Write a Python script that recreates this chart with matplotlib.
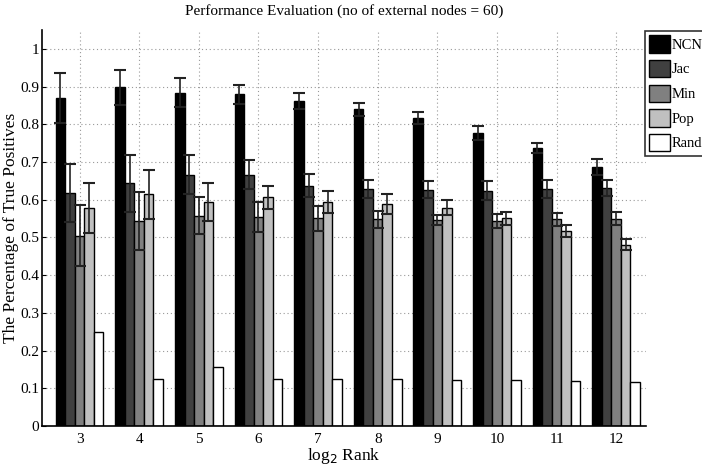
import numpy as np
import matplotlib
matplotlib.use("Agg")
import matplotlib.pyplot as plt

plt.rcParams['font.family'] = ['Liberation Serif', 'DejaVu Serif']

# -----------------------------
# Data
# -----------------------------
ranks = [3, 4, 5, 6, 7, 8, 9, 10, 11, 12]
methods = ['NCN', 'Jac', 'Min', 'Pop', 'Rand']

ncn = [0.870, 0.898, 0.884, 0.880, 0.862, 0.840, 0.817, 0.777, 0.737, 0.687]
jac = [0.617, 0.643, 0.666, 0.666, 0.637, 0.628, 0.627, 0.624, 0.628, 0.630]
mn = [0.505, 0.543, 0.558, 0.555, 0.551, 0.548, 0.546, 0.544, 0.548, 0.550]
pop = [0.579, 0.615, 0.594, 0.606, 0.594, 0.588, 0.579, 0.551, 0.518, 0.481]
rnd = [0.250, 0.125, 0.157, 0.125, 0.125, 0.125, 0.123, 0.122, 0.120, 0.116]

ncn_err = [0.066, 0.046, 0.038, 0.025, 0.022, 0.017, 0.016, 0.019, 0.014, 0.022]
jac_err = [0.077, 0.075, 0.052, 0.038, 0.031, 0.024, 0.023, 0.026, 0.024, 0.021]
mn_err = [0.080, 0.077, 0.048, 0.040, 0.033, 0.022, 0.014, 0.018, 0.018, 0.017]
pop_err = [0.066, 0.065, 0.050, 0.030, 0.029, 0.026, 0.020, 0.017, 0.016, 0.015]

colors = ['#000000', '#404040', '#808080', '#c0c0c0', '#ffffff']

# -----------------------------
# Plot
# -----------------------------
fig = plt.figure(figsize=(7.02, 4.68), dpi=100)
ax = fig.add_axes([42 / 702, 42 / 468, 604 / 702, 396 / 468])

x = np.array(ranks, dtype=float)
width = 0.16
series = [ncn, jac, mn, pop, rnd]
errs = [ncn_err, jac_err, mn_err, pop_err, None]

for i, (vals, err) in enumerate(zip(series, errs)):
    pos = x + (i - 2) * width
    ax.bar(pos, vals, width, color=colors[i], edgecolor='black',
           linewidth=1.0, label=methods[i], zorder=2)
    if err is not None:
        ax.errorbar(pos, vals, yerr=err, fmt='none', ecolor='#222222',
                    elinewidth=1.2, capsize=4, capthick=1.5, zorder=3)

ax.set_xlim(2.37, 12.5)
ax.set_ylim(0, 1.05)
ax.set_xticks(ranks)
ax.set_yticks(np.arange(0, 1.01, 0.1))
ax.set_yticklabels(['0', '0.1', '0.2', '0.3', '0.4', '0.5', '0.6',
                    '0.7', '0.8', '0.9', '1'])
ax.tick_params(direction='in', labelsize=11, length=3, pad=2)
ax.tick_params(axis='x', length=0, pad=5)

ax.grid(True, linestyle=(0, (1, 2.5)), color='#999999', linewidth=0.8)
ax.set_axisbelow(True)
ax.spines['top'].set_visible(False)
ax.spines['right'].set_visible(False)
ax.spines['left'].set_linewidth(1.2)
ax.spines['bottom'].set_linewidth(1.2)

ax.set_title('Performance Evaluation (no of external nodes = 60)',
             fontsize=11, pad=11)
ax.set_ylabel('The Percentage of True Positives', fontsize=12.5, labelpad=1)
ax.set_xlabel('log$_2$ Rank', fontsize=12.5, labelpad=0)

leg = fig.legend(loc='upper left', bbox_to_anchor=(645 / 702, 1 - 31 / 468),
                 fontsize=10.5, frameon=True, fancybox=False, edgecolor='black',
                 handlelength=1.4, handleheight=1.45, handletextpad=0.1,
                 labelspacing=0.5, borderpad=0.3, borderaxespad=0)
leg.get_frame().set_linewidth(1.2)

plt.savefig('out.png', dpi=100)
